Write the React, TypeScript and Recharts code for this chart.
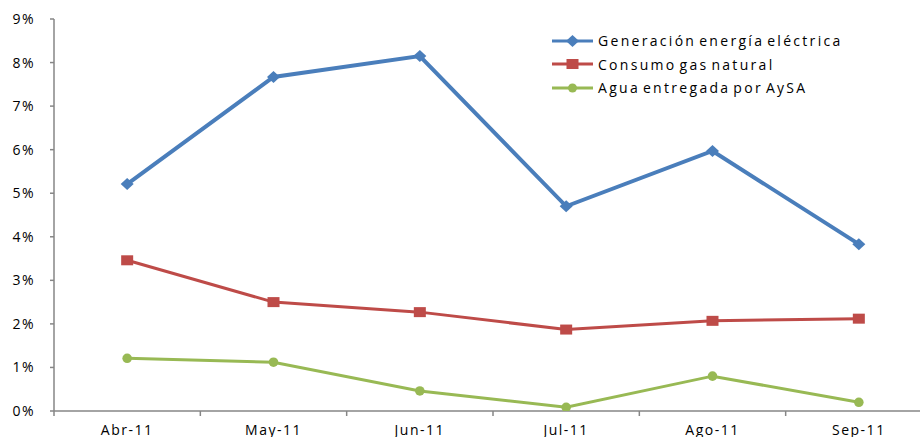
import React from 'react';
import { LineChart, Line, XAxis, YAxis } from 'recharts';

const categories = ['Abr-11', 'May-11', 'Jun-11', 'Jul-11', 'Ago-11', 'Sep-11'];
const generacion = [5.21, 7.67, 8.15, 4.7, 5.97, 3.83];
const gasNatural = [3.46, 2.5, 2.27, 1.87, 2.07, 2.12];
const agua = [1.21, 1.12, 0.46, 0.085, 0.8, 0.2];
const yTicks = [0, 1, 2, 3, 4, 5, 6, 7, 8, 9];

const seriesNames = ['Generación energía eléctrica', 'Consumo gas natural', 'Agua entregada por AySA'];
const BLUE = '#4A7EBB';
const RED = '#BE4B48';
const GREEN = '#98B954';
const AXIS = '#868686';
const FONT = '"Open Sans", "DejaVu Sans", sans-serif';
const TICK_MARGIN = 14;

const data = categories.map((name, i) => ({
  name,
  gen: generacion[i],
  gas: gasNatural[i],
  agua: agua[i],
}));

const Diamond = (props: any) => {
  const { cx, cy } = props;
  if (cx == null || cy == null) return null;
  return <path key={`d${cx}`} d={`M${cx},${cy - 6}L${cx + 6.5},${cy}L${cx},${cy + 6}L${cx - 6.5},${cy}Z`} fill={BLUE} />;
};
const Square = (props: any) => {
  const { cx, cy } = props;
  if (cx == null || cy == null) return null;
  return <rect key={`s${cx}`} x={cx - 6} y={cy - 5} width={12} height={10} fill={RED} />;
};
const Circle = (props: any) => {
  const { cx, cy } = props;
  if (cx == null || cy == null) return null;
  return <circle key={`c${cx}`} cx={cx} cy={cy} r={4.8} fill={GREEN} />;
};

const CatTick = (props: any) => {
  const { x, y, payload, index } = props;
  const off = payload && payload.offset ? payload.offset : 0;
  const axisY = y - TICK_MARGIN;
  return (
    <g>
      <line x1={x - off} x2={x - off} y1={axisY} y2={axisY + 5} stroke={AXIS} strokeWidth={1.5} />
      {index === categories.length - 1 && (
        <line x1={x + off} x2={x + off} y1={axisY} y2={axisY + 5} stroke={AXIS} strokeWidth={1.5} />
      )}
      <text x={x} y={y} dy="0.71em" textAnchor="middle" fill="#000" fontSize={14} fontFamily={FONT} letterSpacing={1.5}>
        {payload.value}
      </text>
    </g>
  );
};

const LegendBox = () => {
  const items = [
    { name: seriesNames[0], color: BLUE, shape: 'diamond' },
    { name: seriesNames[1], color: RED, shape: 'square' },
    { name: seriesNames[2], color: GREEN, shape: 'circle' },
  ];
  return (
    <div style={{ position: 'absolute', left: 552, top: 29 }}>
      {items.map((it) => (
        <div key={it.name} style={{ display: 'flex', alignItems: 'center', height: 23.5 }}>
          <svg width={46} height={14} style={{ display: 'block' }}>
            <line x1={0} y1={7} x2={41} y2={7} stroke={it.color} strokeWidth={3} />
            {it.shape === 'diamond' && <path d="M20.5,1L27,7L20.5,13L14,7Z" fill={it.color} />}
            {it.shape === 'square' && <rect x={14.5} y={2} width={12} height={10} fill={it.color} />}
            {it.shape === 'circle' && <circle cx={20.5} cy={7} r={4.5} fill={it.color} />}
          </svg>
          <span style={{ fontFamily: FONT, fontSize: 14, color: '#000', letterSpacing: 2.3, wordSpacing: -3, whiteSpace: 'nowrap' }}>{it.name}</span>
        </div>
      ))}
    </div>
  );
};

export default function App() {
  return (
    <div style={{ position: 'fixed', left: 0, top: 0, width: 920, height: 437, overflow: 'hidden', background: '#fff' }}>
      <LineChart width={940} height={445} data={data} margin={{ top: 19, right: 8, left: 0, bottom: 0 }}>
        <XAxis
          xAxisId="cat"
          dataKey="name"
          scale="band"
          axisLine={{ stroke: AXIS, strokeWidth: 1.5 }}
          tickLine={false}
          tickSize={0}
          tickMargin={TICK_MARGIN}
          height={34}
          interval={0}
          tick={<CatTick />}
        />
        <YAxis
          domain={[0, 9]}
          ticks={yTicks}
          width={54}
          tickFormatter={(v: number) => `${v}%`}
          axisLine={{ stroke: AXIS, strokeWidth: 1.5 }}
          tickLine={{ stroke: AXIS, strokeWidth: 1.5 }}
          tickSize={4}
          tickMargin={15}
          tick={{ fill: '#000', fontSize: 14, fontFamily: FONT, letterSpacing: 1.5 }}
          allowDataOverflow
        />
        <Line xAxisId="cat" type="linear" dataKey="gen" name={seriesNames[0]} stroke={BLUE} strokeWidth={4} dot={<Diamond />} activeDot={false} isAnimationActive={false} />
        <Line xAxisId="cat" type="linear" dataKey="gas" name={seriesNames[1]} stroke={RED} strokeWidth={3} dot={<Square />} activeDot={false} isAnimationActive={false} />
        <Line xAxisId="cat" type="linear" dataKey="agua" name={seriesNames[2]} stroke={GREEN} strokeWidth={3} dot={<Circle />} activeDot={false} isAnimationActive={false} />
      </LineChart>
      <LegendBox />
    </div>
  );
}
